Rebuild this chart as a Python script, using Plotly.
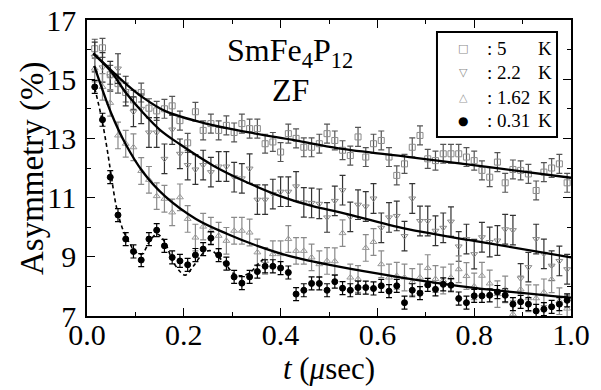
import plotly.graph_objects as go

# ---------------- data ----------------
T = [0.016, 0.032, 0.048, 0.064, 0.080, 0.096, 0.112, 0.128, 0.144, 0.160,
     0.176, 0.192, 0.208, 0.224, 0.240, 0.256, 0.272, 0.288, 0.304, 0.320,
     0.336, 0.352, 0.368, 0.384, 0.400, 0.416, 0.432, 0.448, 0.464, 0.480,
     0.496, 0.512, 0.528, 0.544, 0.560, 0.576, 0.592, 0.608, 0.624, 0.640,
     0.656, 0.672, 0.688, 0.704, 0.720, 0.736, 0.752, 0.768, 0.784, 0.800,
     0.816, 0.832, 0.848, 0.864, 0.880, 0.896, 0.912, 0.928, 0.944, 0.960,
     0.976, 0.992]

A_5K = [16.03, 16.06, 15.15, 14.85, 14.55, 14.30, 14.55, 14.02, 13.93, 14.00,
        14.10, 13.60, 12.85, 13.90, 13.27, 13.50, 13.27, 13.44, 13.20, 13.50,
        13.33, 13.33, 12.82, 12.88, 12.54, 13.16, 13.00, 12.70, 12.70, 12.82,
        13.16, 12.93, 12.60, 12.42, 13.05, 12.37, 12.82, 12.93, 12.37, 11.75,
        12.14, 12.70, 13.10, 12.31, 12.25, 12.48, 12.48, 12.48, 12.37, 12.25,
        11.92, 11.69, 12.20, 11.50, 11.95, 11.92, 11.80, 11.24, 11.86, 12.00,
        12.14, 11.50]

A_2K2 = [15.75, 15.40, 15.10, 15.36, 14.60, 13.90, 14.00, 13.20, 13.20, 12.31,
         13.30, 12.48, 12.10, 11.95, 12.10, 11.86, 12.05, 12.05, 11.69, 11.65,
         11.98, 10.93, 10.93, 11.12, 11.20, 11.20, 11.38, 10.84, 10.82, 10.79,
         10.33, 10.89, 11.25, 10.35, 10.76, 10.70, 10.97, 9.98, 10.33, 10.38,
         9.70, 10.97, 10.21, 10.21, 9.88, 9.98, 10.19, 9.35, 9.60, 9.09,
         9.66, 9.50, 9.55, 9.93, 9.90, 8.27, 8.65, 9.60, 9.10, 8.70,
         8.86, 8.58]

A_1K62 = [15.36, 14.74, 14.20, 13.10, 12.82, 12.70, 11.90, 11.60, 11.05, 10.96,
          10.50, 11.01, 10.28, 9.65, 10.02, 9.88, 9.71, 9.54, 9.88, 9.88,
          9.82, 9.15, 8.86, 9.09, 9.09, 9.60, 9.20, 9.20, 8.98, 8.75,
          8.86, 8.85, 9.80, 8.30, 8.25, 9.30, 9.50, 8.75, 8.30, 8.36,
          8.30, 8.15, 8.30, 8.62, 8.25, 8.20, 8.30, 8.58, 8.35, 8.00,
          8.36, 8.10, 7.74, 7.90, 7.06, 7.90, 7.60, 7.60, 7.80, 8.24,
          7.50, 7.25]

A_0K31 = [14.74, 13.63, 11.69, 10.41, 9.60, 9.18, 8.89, 9.60, 9.90, 9.37,
          8.98, 8.86, 8.73, 9.06, 9.26, 9.63, 9.06, 8.77, 8.32, 8.11,
          8.32, 8.50, 8.68, 8.68, 8.62, 8.47, 7.74, 7.87, 8.10, 8.10,
          7.87, 8.16, 7.94, 7.87, 7.96, 7.96, 7.93, 8.02, 7.84, 8.02,
          7.45, 7.87, 7.77, 8.05, 7.90, 8.07, 8.04, 7.59, 7.45, 7.68,
          7.68, 7.70, 7.81, 7.70, 7.40, 7.48, 7.40, 7.17, 7.23, 7.31,
          7.40, 7.53]

ERR_5K = 0.32
ERR_2K2 = 0.50
ERR_1K62 = 0.45
ERR_0K31 = 0.22

# fit curves
FIT_5K_T = [0.013, 0.05, 0.08, 0.114, 0.162, 0.246, 0.335, 0.43, 0.52, 0.666, 0.831, 1.0]
FIT_5K_Y = [15.87, 15.30, 14.85, 14.40, 13.92, 13.50, 13.20, 12.93, 12.66, 12.37, 12.03, 11.67]

FIT_2K2_T = [0.013, 0.05, 0.08, 0.114, 0.15, 0.192, 0.261, 0.33, 0.399, 0.468, 0.523, 0.66, 0.8, 1.0]
FIT_2K2_Y = [15.87, 15.25, 14.55, 13.90, 13.30, 12.80, 12.08, 11.52, 11.05, 10.70, 10.50, 9.94, 9.54, 8.98]

FIT_1K62_T = [0.015, 0.05, 0.08, 0.114, 0.161, 0.225, 0.29, 0.352, 0.417, 0.512, 0.65, 0.8, 1.0]
FIT_1K62_Y = [15.45, 13.85, 12.80, 11.90, 11.05, 10.28, 9.77, 9.37, 9.03, 8.69, 8.30, 7.95, 7.62]

FIT_0K31_T = [0.016, 0.03, 0.041, 0.05, 0.061, 0.075, 0.089, 0.098, 0.113, 0.13, 0.145, 0.161,
              0.177, 0.194, 0.203, 0.22, 0.242, 0.258, 0.273, 0.289, 0.305, 0.321, 0.337, 0.353, 0.364]
FIT_0K31_Y = [14.70, 13.70, 12.70, 11.75, 10.67, 9.88, 9.43, 9.20, 9.09, 9.54, 9.77, 9.49,
              8.86, 8.47, 8.38, 8.69, 9.15, 9.20, 8.98, 8.69, 8.41, 8.36, 8.47, 8.75, 8.92]

LEGEND_VALUES = ["5", "2.2", "1.62", "0.31"]
LEGEND_UNIT = "K"
LEGEND_GLYPHS = ["\u25a1", "\u25bd", "\u25b3", "\u25cf"]
X_TICKS = [0.0, 0.2, 0.4, 0.6, 0.8, 1.0]
X_TICKTEXT = ["0.0", "0.2", "0.4", "0.6", "0.8", "1.0"]
Y_TICKS = [7, 9, 11, 13, 15, 17]

FONT = "Liberation Serif"

fig = go.Figure()

series = [
    (A_5K, ERR_5K, "square-open", "#8a8a8a", "#555555", 6),
    (A_2K2, ERR_2K2, "triangle-down-open", "#8a8a8a", "#333333", 6),
    (A_1K62, ERR_1K62, "triangle-up-open", "#999999", "#8a8a8a", 6),
    (A_0K31, ERR_0K31, "circle", "#000000", "#000000", 6),
]
for (vals, err, sym, mcol, ecol, size), name in zip(series, LEGEND_VALUES):
    fig.add_trace(go.Scatter(
        x=T, y=vals, mode="markers", name=name + " " + LEGEND_UNIT, showlegend=False,
        marker=dict(symbol=sym, size=size, color=mcol, line=dict(color=mcol, width=1)),
        error_y=dict(type="constant", value=err, color=ecol, thickness=1.2, width=3),
    ))

for ft, fy in [(FIT_5K_T, FIT_5K_Y), (FIT_2K2_T, FIT_2K2_Y), (FIT_1K62_T, FIT_1K62_Y)]:
    fig.add_trace(go.Scatter(x=ft, y=fy, mode="lines", showlegend=False,
                             line=dict(color="black", width=2.3, shape="spline")))
fig.add_trace(go.Scatter(x=FIT_0K31_T, y=FIT_0K31_Y, mode="lines", showlegend=False,
                         line=dict(color="black", width=1.6, shape="spline", dash="4px,3px")))

axis_common = dict(
    showline=True, linecolor="black", linewidth=1.5, mirror="ticks",
    ticks="inside", ticklen=8, tickwidth=1.3, tickcolor="black",
    showgrid=False, zeroline=False, automargin=False,
    tickfont=dict(family=FONT, size=30, color="black"),
)

fig.update_xaxes(range=[0, 1.0], tickvals=X_TICKS, ticktext=X_TICKTEXT,
                 ticklabelstandoff=-9,
                 minor=dict(ticks="inside", ticklen=4, dtick=0.1, tickcolor="black", tickwidth=1.2),
                 title=dict(text="<i>t</i> (<i>μ</i>sec)", font=dict(family=FONT, size=31, color="black"),
                            standoff=8),
                 **axis_common)
fig.update_yaxes(range=[7, 17], tickvals=Y_TICKS,
                 ticklabelstandoff=3,
                 minor=dict(ticks="inside", ticklen=4, dtick=1, tickcolor="black", tickwidth=1.2),
                 **axis_common)

# y-axis title
fig.add_annotation(x=-0.1136, y=0.5, xref="paper", yref="paper", showarrow=False,
                   text="Asymmetry (%)", textangle=-90, xanchor="center", yanchor="middle",
                   font=dict(family=FONT, size=33, color="black"))

fig.add_annotation(x=0.42, y=0.966, xref="paper", yref="paper", showarrow=False,
                   text="SmFe<sub>4</sub>P<sub>12</sub>",
                   font=dict(family=FONT, size=32, color="black"))
fig.add_annotation(x=0.42, y=0.832, xref="paper", yref="paper", showarrow=False,
                   text="ZF", font=dict(family=FONT, size=32, color="black"))

# legend box (drawn by hand to match the compact row spacing)
fig.add_shape(type="rect", xref="paper", yref="paper",
              x0=0.7231, x1=0.9711, y0=0.6047, y1=0.9595,
              line=dict(color="black", width=2), fillcolor="white", layer="above")
ROW_Y = [0.9044, 0.822, 0.7389, 0.6598]
GLYPH_COLORS = ["#8a8a8a", "#8a8a8a", "#999999", "#000000"]
GLYPH_SIZES = [11, 11, 11, 12]
for gy, glyph, gcol, gsz, val in zip(ROW_Y, LEGEND_GLYPHS, GLYPH_COLORS, GLYPH_SIZES, LEGEND_VALUES):
    fig.add_annotation(x=0.7769, y=gy, xref="paper", yref="paper", showarrow=False,
                       text=glyph, xanchor="center", yanchor="middle",
                       font=dict(family="DejaVu Sans", size=gsz, color=gcol))
    fig.add_annotation(x=0.8225, y=gy, xref="paper", yref="paper", showarrow=False,
                       text=": " + val, xanchor="left", yanchor="middle",
                       font=dict(family=FONT, size=19, color="black"))
    fig.add_annotation(x=0.9640, y=gy, xref="paper", yref="paper", showarrow=False,
                       text=LEGEND_UNIT, xanchor="right", yanchor="middle",
                       font=dict(family=FONT, size=19, color="black"))

fig.update_layout(
    width=601, height=390,
    margin=dict(l=87, r=30, t=20, b=74),
    paper_bgcolor="white", plot_bgcolor="white",
    font=dict(family=FONT, color="black"),
    showlegend=False,
)

fig.write_html("out.html", config={"displayModeBar": False},
               post_script="document.body.style.margin='0';document.body.style.overflow='hidden';")
